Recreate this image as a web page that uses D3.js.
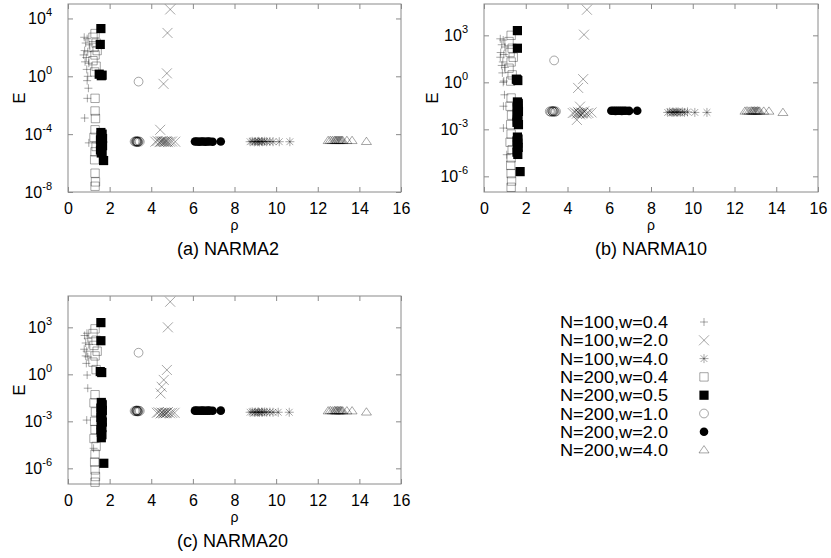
<!DOCTYPE html>
<html>
<head>
<meta charset="utf-8">
<script src="https://cdn.jsdelivr.net/npm/d3@7"></script>
<style>
body{margin:0;background:#fff}
text{font-family:"Liberation Sans",Arial,Helvetica,sans-serif;fill:#000}
</style>
</head>
<body>
<div id="chart"></div>
<script>
// ---- data: [rho, E] ----
// (a) NARMA2
const a_p04 = [[0.78,5e2],[0.92,4e2],[0.85,2e2],[1.02,1.5e2],[0.8,6e1],[0.95,5e1],[0.75,3e1],[0.88,2e1],[0.82,1e1],[1.0,8],[0.9,3],[0.95,1],[0.92,5e-1],[0.98,1.5e-1],[0.93,3e-2],[0.8,1.3e-3],[1.0,2.5e-5],[1.38,2.4e-5]]
const a_x20 = [[4.91,4.2e4],[4.78,1e3],[4.75,1.6],[4.59,3e-1],[4.43,2e-4],[4.2,3e-5],[4.3,3.4e-5],[4.4,2.8e-5],[4.45,3.2e-5],[4.5,3e-5],[4.55,3.3e-5],[4.6,2.9e-5],[4.65,3.1e-5],[4.7,3e-5],[4.75,3.2e-5],[4.8,2.8e-5],[4.9,3e-5],[5.0,3.1e-5],[5.15,3e-5]]
const a_s40 = [[8.75,3e-5],[8.85,3.2e-5],[8.95,2.9e-5],[9.0,3.1e-5],[9.1,3e-5],[9.15,3.2e-5],[9.2,2.9e-5],[9.3,3.1e-5],[9.35,3e-5],[9.45,3.2e-5],[9.55,3e-5],[9.7,3.1e-5],[9.85,3e-5],[10.15,3e-5],[10.66,3e-5]]
const a_q04 = [[1.3,9e2],[1.2,5e2],[1.35,2e2],[1.25,1e2],[1.4,6e1],[1.3,3e1],[1.2,1.2e1],[1.35,5],[1.28,2],[1.3,3e-2],[1.3,4e-3],[1.32,1.2e-3],[1.3,2e-4],[1.25,6e-5],[1.35,1.4e-5],[1.3,6e-6],[1.28,1.7e-6],[1.3,2e-7],[1.32,5e-8],[1.3,2.5e-8]]
const a_f05 = [[1.58,2e3],[1.55,1.6e2],[1.5,1.4],[1.6,1.1],[1.64,1.2],[1.58,1.3e-4],[1.64,1e-4],[1.6,8e-5],[1.66,5e-5],[1.56,4e-5],[1.62,3.2e-5],[1.58,2e-5],[1.66,1.6e-5],[1.6,1.3e-5],[1.56,8e-6],[1.64,6e-6],[1.6,5e-6],[1.71,1.5e-6]]
const a_c10 = [[3.39,4.3e-1],[3.2,3.1e-5],[3.25,3e-5],[3.28,3.2e-5],[3.3,2.9e-5],[3.33,3.1e-5],[3.36,3e-5],[3.4,3.2e-5],[3.45,3e-5],[3.3,3.3e-5],[3.35,2.8e-5]]
const a_b20 = [[6.1,3.1e-5],[6.2,3.1e-5],[6.3,3e-5],[6.4,3.1e-5],[6.5,3.1e-5],[6.6,3e-5],[6.7,3.1e-5],[6.8,3.1e-5],[6.95,3e-5],[7.34,3.1e-5]]
const a_t40 = [[12.5,3.5e-5],[12.6,3.6e-5],[12.7,3.5e-5],[12.8,3.6e-5],[12.85,3.5e-5],[12.9,3.5e-5],[12.95,3.6e-5],[13.0,3.5e-5],[13.05,3.5e-5],[13.1,3.6e-5],[13.15,3.5e-5],[13.2,3.5e-5],[13.4,3.5e-5],[13.65,3.5e-5],[14.34,3e-5]]

// (b) NARMA10
const b_p04 = [[0.78,6e2],[0.92,5e2],[0.85,2.5e2],[1.0,1.8e2],[0.8,8e1],[0.95,6e1],[0.78,4e1],[0.9,2e1],[0.85,1.2e1],[1.0,9],[0.88,4],[0.95,1.2],[0.92,1],[0.98,1.6e-1],[0.93,3e-2],[0.93,1.2e-3],[1.09,2.4e-5]]
const b_x20 = [[4.93,4.3e4],[4.79,1.1e3],[4.75,1.6],[4.51,4.4e-1],[4.25,1.1e-2],[4.35,1.2e-2],[4.45,1e-2],[4.5,1.3e-2],[4.55,1.1e-2],[4.6,9e-3],[4.65,1.2e-2],[4.7,1e-2],[4.75,1.1e-2],[4.8,1.4e-2],[4.9,1e-2],[5.0,1.1e-2],[5.15,1.2e-2],[4.45,4e-3],[4.6,2.8e-2]]
const b_s40 = [[8.8,1.2e-2],[8.9,1.3e-2],[9.0,1.2e-2],[9.05,1.3e-2],[9.1,1.2e-2],[9.2,1.3e-2],[9.25,1.2e-2],[9.3,1.3e-2],[9.4,1.2e-2],[9.5,1.3e-2],[9.6,1.2e-2],[9.75,1.3e-2],[10.1,1.2e-2],[10.68,1.2e-2]]
const b_q04 = [[1.3,1e3],[1.2,4e2],[1.35,1.5e2],[1.25,8e1],[1.4,4e1],[1.3,2e1],[1.2,8],[1.35,3],[1.28,1.2],[1.3,1e-1],[1.25,3e-2],[1.32,8e-3],[1.28,2e-3],[1.3,5e-4],[1.25,1.5e-4],[1.35,5e-5],[1.3,1.5e-5],[1.28,5e-6],[1.3,1.5e-6],[1.32,5e-7],[1.3,2e-7]]
const b_f05 = [[1.6,2e3],[1.6,1.5e2],[1.55,1.6],[1.62,1.3],[1.58,1.5],[1.6,5.6e-2],[1.64,4.5e-2],[1.63,3.5e-2],[1.58,2.6e-2],[1.62,2e-2],[1.65,1.4e-2],[1.6,1e-2],[1.58,7e-3],[1.63,5e-3],[1.6,4e-3],[1.58,2.8e-3],[1.65,2e-3],[1.6,3.2e-4],[1.63,2.4e-4],[1.58,1.8e-4],[1.62,1.3e-4],[1.6,1e-4],[1.64,7e-5],[1.6,5e-5],[1.58,3.5e-5],[1.62,2.5e-5],[1.73,2e-6]]
const b_c10 = [[3.36,2.5e1],[3.15,1.4e-2],[3.2,1.3e-2],[3.25,1.5e-2],[3.28,1.4e-2],[3.3,1.3e-2],[3.33,1.5e-2],[3.36,1.4e-2],[3.4,1.3e-2],[3.45,1.4e-2]]
const b_b20 = [[6.1,1.55e-2],[6.2,1.55e-2],[6.3,1.5e-2],[6.4,1.55e-2],[6.5,1.55e-2],[6.6,1.5e-2],[6.7,1.55e-2],[6.8,1.55e-2],[6.95,1.5e-2],[7.34,1.55e-2]]
const b_t40 = [[12.5,1.4e-2],[12.6,1.45e-2],[12.7,1.4e-2],[12.8,1.45e-2],[12.85,1.4e-2],[12.9,1.4e-2],[12.95,1.45e-2],[13.0,1.4e-2],[13.05,1.4e-2],[13.1,1.45e-2],[13.15,1.4e-2],[13.2,1.4e-2],[13.4,1.4e-2],[13.65,1.4e-2],[14.32,1.15e-2]]

// (c) NARMA20
const c_p04 = [[0.91,4.2e2],[0.8,3e2],[0.95,2e2],[0.85,1e2],[1.0,8e1],[0.78,4e1],[0.9,3e1],[0.85,1.5e1],[0.95,1.3e1],[0.88,5],[0.92,9e-1],[0.95,1.3e-1],[0.9,1.2e-3],[1.23,1.9e-5]]
const c_x20 = [[4.91,4.3e4],[4.8,1e3],[4.75,1.9],[4.6,4.4e-1],[4.5,1.6e-1],[4.45,6e-2],[4.27,3.5e-3],[4.35,3.8e-3],[4.45,3.2e-3],[4.5,3.6e-3],[4.55,3.4e-3],[4.6,3.2e-3],[4.65,3.7e-3],[4.7,3.3e-3],[4.75,3.5e-3],[4.8,3.9e-3],[4.9,3.3e-3],[5.0,3.5e-3],[5.12,3.5e-3]]
const c_s40 = [[8.75,3.8e-3],[8.85,4e-3],[8.95,3.7e-3],[9.0,3.9e-3],[9.1,3.8e-3],[9.15,4e-3],[9.2,3.7e-3],[9.3,3.9e-3],[9.35,3.8e-3],[9.45,4e-3],[9.55,3.8e-3],[9.7,3.9e-3],[9.85,3.8e-3],[10.1,3.8e-3],[10.63,3.8e-3]]
const c_q04 = [[1.3,8e2],[1.2,4e2],[1.35,1.5e2],[1.25,7e1],[1.4,3e1],[1.3,1.5e1],[1.2,6],[1.35,2],[1.3,5e-2],[1.25,1.5e-2],[1.32,4e-3],[1.28,1e-3],[1.3,3e-4],[1.25,8e-5],[1.35,2.5e-5],[1.3,8e-6],[1.28,2.5e-6],[1.3,8e-7],[1.32,3e-7],[1.3,1.3e-7]]
const c_f05 = [[1.58,2e3],[1.58,1.4e2],[1.55,1.5],[1.62,1.3],[1.6,1.6e-2],[1.64,1.2e-2],[1.63,1e-2],[1.58,7e-3],[1.65,5e-3],[1.6,3.5e-3],[1.63,2.5e-3],[1.58,1.8e-3],[1.6,1.2e-3],[1.65,9e-4],[1.6,6e-4],[1.63,4e-4],[1.58,3e-4],[1.6,2e-4],[1.63,1.4e-4],[1.6,9e-5],[1.72,2.1e-6]]
const c_c10 = [[3.39,2.4e1],[3.2,4.6e-3],[3.25,4.4e-3],[3.28,4.8e-3],[3.3,4.5e-3],[3.33,4.7e-3],[3.36,4.4e-3],[3.4,4.8e-3],[3.45,4.6e-3],[3.3,5e-3],[3.35,4.2e-3]]
const c_b20 = [[6.1,4.8e-3],[6.2,4.8e-3],[6.3,4.7e-3],[6.4,4.8e-3],[6.5,4.8e-3],[6.6,4.7e-3],[6.7,4.8e-3],[6.8,4.8e-3],[6.95,4.7e-3],[7.34,4.8e-3]]
const c_t40 = [[12.5,4.5e-3],[12.6,4.7e-3],[12.7,4.5e-3],[12.8,4.7e-3],[12.85,4.5e-3],[12.9,4.5e-3],[12.95,4.7e-3],[13.0,4.5e-3],[13.05,4.5e-3],[13.1,4.7e-3],[13.15,4.5e-3],[13.2,4.5e-3],[13.4,4.5e-3],[13.65,4.5e-3],[14.34,3.8e-3]]

const legendLabels = ['N=100,w=0.4','N=100,w=2.0','N=100,w=4.0','N=200,w=0.4','N=200,w=0.5','N=200,w=1.0','N=200,w=2.0','N=200,w=4.0']
const symbols = ['plus','cross','star','square','fsquare','circle','fcircle','triangle']
const xTicks = [0,2,4,6,8,10,12,14,16]
const yTicksA = [1e-8,1e-4,1e0,1e4]
const yTicksBC = [1e-6,1e-3,1e0,1e3]
const captions = ['(a) NARMA2','(b) NARMA10','(c) NARMA20']

const panelData = [
  [a_p04,a_x20,a_s40,a_q04,a_f05,a_c10,a_b20,a_t40],
  [b_p04,b_x20,b_s40,b_q04,b_f05,b_c10,b_b20,b_t40],
  [c_p04,c_x20,c_s40,c_q04,c_f05,c_c10,c_b20,c_t40]
]

// ---- layout ----
const panels = [
  {x0:68, x1:401, y0:4, y1:192, ydom:[1e-8,1e5], yt:yTicksA, capX:177, eX:19},
  {x0:484, x1:818, y0:4, y1:192, ydom:[1e-7,1e5], yt:yTicksBC, capX:595, eX:432},
  {x0:68, x1:401, y0:296, y1:484, ydom:[1e-7,1e5], yt:yTicksBC, capX:177, eX:19}
]

const symPath = (t) => {
  switch(t){
    case 'plus': return 'M-4,0H4M0,-4V4'
    case 'cross': return 'M-5,-5L5,5M-5,5L5,-5'
    case 'star': return 'M-4.5,0H4.5M0,-4.5V4.5M-3.4,-3.4L3.4,3.4M-3.4,3.4L3.4,-3.4'
    case 'square': return 'M-4.2,-4.2H4.2V4.2H-4.2Z'
    case 'fsquare': return 'M-4.6,-4.6H4.6V4.6H-4.6Z'
    case 'circle': return 'M4.4,0A4.4,4.4 0 1,1 -4.4,0A4.4,4.4 0 1,1 4.4,0Z'
    case 'fcircle': return 'M4.3,0A4.3,4.3 0 1,1 -4.3,0A4.3,4.3 0 1,1 4.3,0Z'
    case 'triangle': return 'M0,-4.5L5,2.8L-5,2.8Z'
  }
}
const isFilled = t => t==='fsquare' || t==='fcircle'
const styleSym = (sel, t) => {
  if (isFilled(t)) sel.attr('fill','#000').attr('stroke','none')
  else sel.attr('fill','none').attr('stroke','#000').attr('stroke-opacity',0.35).attr('stroke-width',1)
}

const svg = d3.select('#chart').append('svg').attr('width',831).attr('height',558)

panels.forEach((p,i) => {
  const x = d3.scaleLinear().domain([0,16]).range([p.x0,p.x1])
  const y = d3.scaleLog().domain(p.ydom).range([p.y1,p.y0])
  const g = svg.append('g')

  // ticks on all four sides, pointing inward
  const bx = g.append('g').attr('transform',`translate(0,${p.y1})`)
    .call(d3.axisBottom(x).tickValues(xTicks).tickSize(-5).tickPadding(11).tickFormat(d3.format('d')))
  bx.selectAll('text').style('font-size','16px').attr('fill','#000')
  g.append('g').attr('transform',`translate(0,${p.y0})`)
    .call(d3.axisTop(x).tickValues(xTicks).tickSize(-5).tickFormat(''))
  g.append('g').attr('transform',`translate(${p.x0},0)`)
    .call(d3.axisLeft(y).tickValues(p.yt).tickSize(-5).tickFormat(''))
  g.append('g').attr('transform',`translate(${p.x1},0)`)
    .call(d3.axisRight(y).tickValues(p.yt).tickSize(-5).tickFormat(''))
  g.selectAll('.domain').remove()
  g.selectAll('.tick line').attr('stroke','#8a8a8a')

  // y tick labels 10^n
  const yl = g.selectAll('.ylab').data(p.yt).enter().append('text')
    .attr('x',p.x0-16).attr('y',d=>y(d)+6).attr('text-anchor','end').style('font-size','16px')
  yl.append('tspan').text('10')
  yl.append('tspan').attr('dy',-8).style('font-size','11px').text(d=>String(Math.round(Math.log10(d))))

  // frame
  g.append('rect').attr('x',p.x0).attr('y',p.y0).attr('width',p.x1-p.x0).attr('height',p.y1-p.y0)
    .attr('fill','none').attr('stroke','#8a8a8a').attr('stroke-width',1)

  // points
  panelData[i].forEach((pts,k) => {
    const t = symbols[k]
    const s = g.append('g').selectAll('path').data(pts).enter().append('path')
      .attr('d',symPath(t))
      .attr('transform',d=>`translate(${x(d[0])},${y(d[1])})`)
    styleSym(s,t)
  })

  // axis labels
  const my = (p.y0+p.y1)/2
  g.append('text').attr('transform',`translate(${p.eX+6},${my}) rotate(-90)`)
    .attr('text-anchor','middle').style('font-size','17px').text('E')
  g.append('text').attr('x',x(8)).attr('y',p.y1+38).attr('text-anchor','middle')
    .style('font-size','14px').text('ρ')
  g.append('text').attr('x',p.capX).attr('y',p.y1+63).style('font-size','18px').text(captions[i])
})

// legend
const lg = svg.append('g')
legendLabels.forEach((lab,k) => {
  const cy = 322 + k*18.3
  lg.append('text').attr('x',560).attr('y',cy+6).style('font-size','17px')
    .attr('textLength',108).attr('lengthAdjust','spacingAndGlyphs').text(lab)
  const s = lg.append('path').attr('d',symPath(symbols[k])).attr('transform',`translate(704,${cy})`)
  styleSym(s,symbols[k])
})
</script>
</body>
</html>
